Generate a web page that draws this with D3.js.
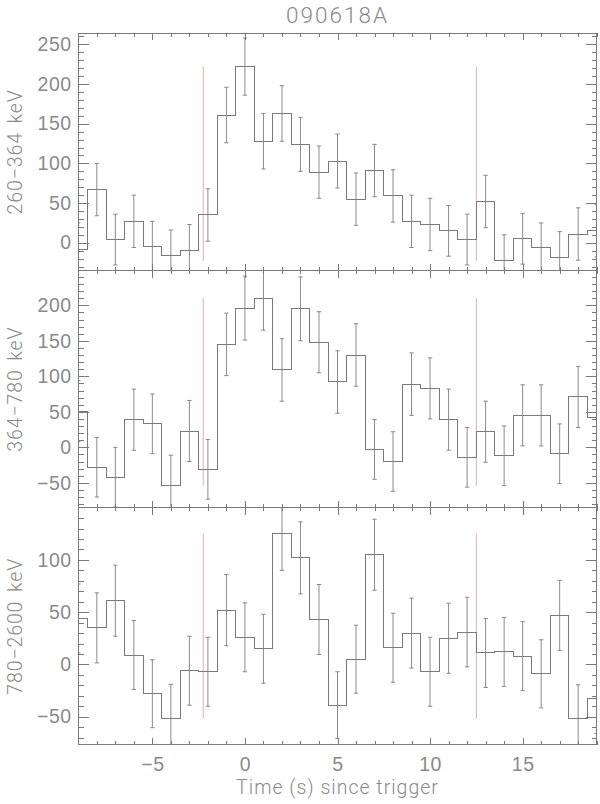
<!DOCTYPE html>
<html>
<head>
<meta charset="utf-8">
<script src="https://cdn.jsdelivr.net/npm/d3@7"></script>
<style>
  html, body { margin: 0; padding: 0; background: #fff; }
  svg { display: block; font-family: Roboto, "Liberation Sans", sans-serif; font-weight: 300; }
  .tick text { fill: #8a8a8a; font-size: 19.5px; }
  .tick line { stroke: #7a7a7a; }
</style>
</head>
<body>
<svg id="chart" width="600" height="804"></svg>
<script>
// Bin centres (s since trigger), 1 s bins.
const times = [-9, -8, -7, -6, -5, -4, -3, -2, -1, 0, 1, 2, 3, 4, 5, 6, 7, 8, 9,
  10, 11, 12, 13, 14, 15, 16, 17, 18, 19];

const rate260 = [-8, 67, 4, 27, -5, -16, -10, 35, 161, 222, 128, 163, 124, 89,
  103, 55, 91, 59, 27, 23, 15, 4, 52, -23, 5, -6, -18, 11, 15];
const err260 = [33, 33, 32, 33, 32, 32, 33, 33, 35, 36, 35, 35, 34, 33,
  34, 33, 33, 33, 33, 33, 32, 32, 33, 33, 32, 31, 32, 33, 33];

const rate364 = [51, -28, -42, 39, 33, -54, 23, -31, 145, 196, 210, 109, 195, 148,
  92, 130, -3, -20, 89, 83, 39, -14, 22, -12, 45, 45, -9, 71, 42];
const err364 = [43, 42, 42, 43, 42, 43, 43, 42, 44, 45, 45, 44, 45, 43,
  44, 44, 42, 42, 44, 43, 43, 42, 43, 42, 43, 43, 42, 43, 43];

const rate780 = [44, 35, 61, 9, -28, -52, -6, -7, 52, 26, 15, 125, 102, 43,
  -39, 5, 105, 16, 30, -7, 25, 31, 11, 12, 8, -9, 47, -52, -33];
const err780 = [33, 33.5, 34, 33, 32.5, 33, 33, 33, 34, 33, 33, 35, 34.5, 33.5,
  32, 32.5, 34, 33, 33.5, 33, 33.5, 33.3, 33, 33, 33, 32.6, 33.5, 32.5, 33];

const panelLabels = ['260\u2212364 keV', '364\u2212780 keV', '780\u22122600 keV'];
const yDomains = [[-35, 264], [-85, 249], [-77, 150]];
const yMajorTicks = [
  [0, 50, 100, 150, 200, 250],
  [-50, 0, 50, 100, 150, 200],
  [-50, 0, 50, 100]
];
const xMajorTicks = [-5, 0, 5, 10, 15];
const markerTimes = [-2.25, 12.5];   // red vertical lines

const title = '090618A';
const xTitle = 'Time (s) since trigger';

const panels = [
  {rate: rate260, err: err260},
  {rate: rate364, err: err364},
  {rate: rate780, err: err780},
];

const svg = d3.select('#chart');
const plotL = 78.3, plotR = 596.7, plotT = 33.3, panelH = 237.2;
const lineColor = '#7a7a7a';
const textColor = '#8a8a8a';
const minus = s => String(s).replace('-', '\u2212');

const x = d3.scaleLinear().domain([-9, 19]).range([plotL, plotR]);
const xMinor = d3.range(-9, 20, 1);

svg.append('text')
    .attr('x', (plotL + plotR) / 2)
    .attr('y', 22.5)
    .attr('text-anchor', 'middle')
    .attr('fill', textColor)
    .attr('font-size', 22.5)
    .attr('letter-spacing', 2)
    .text(title);

panels.forEach((p, i) => {
  const y0 = plotT + i * panelH, y1 = y0 + panelH;
  const y = d3.scaleLinear().domain(yDomains[i]).range([y1, y0]);
  const dom = yDomains[i];
  const yMinor = d3.range(Math.ceil(dom[0] / 10) * 10, dom[1], 10);
  const g = svg.append('g');

  g.append('clipPath').attr('id', 'clip' + i)
    .append('rect')
      .attr('x', plotL).attr('y', y0)
      .attr('width', plotR - plotL).attr('height', panelH);

  const body = g.append('g').attr('clip-path', 'url(#clip' + i + ')');

  // Trigger interval markers span the data extent.
  const ext = d3.extent(p.rate);
  body.selectAll('line.marker')
    .data(markerTimes)
    .join('line')
      .attr('class', 'marker')
      .attr('x1', d => x(d)).attr('x2', d => x(d))
      .attr('y1', y(ext[0])).attr('y2', y(ext[1]))
      .attr('stroke', '#d99a9a')
      .attr('stroke-width', 0.8);

  const line = d3.line()
      .x((d, j) => x(times[j]))
      .y(d => y(d))
      .curve(d3.curveStep);

  body.append('path')
      .attr('d', line(p.rate))
      .attr('fill', 'none')
      .attr('stroke', lineColor)
      .attr('stroke-width', 1)
      .attr('shape-rendering', 'crispEdges');

  // Error bars with small caps.
  const bars = body.selectAll('g.err')
    .data(times.map((t, j) => ({t, v: p.rate[j], e: p.err[j]})))
    .join('g')
      .attr('class', 'err')
      .attr('stroke', '#7e7e7e')
      .attr('stroke-width', 0.9);
  bars.append('line')
      .attr('x1', d => x(d.t)).attr('x2', d => x(d.t))
      .attr('y1', d => y(d.v - d.e)).attr('y2', d => y(d.v + d.e));
  bars.selectAll('line.cap')
    .data(d => [d.v - d.e, d.v + d.e].map(v => ({t: d.t, v})))
    .join('line')
      .attr('class', 'cap')
      .attr('x1', d => x(d.t) - 2.2).attr('x2', d => x(d.t) + 2.2)
      .attr('y1', d => y(d.v)).attr('y2', d => y(d.v));

  // Axes, ticks pointing inwards on all four sides.
  const axes = [
    [d3.axisLeft(y).tickValues(yMinor).tickSize(-5.2), plotL, 0, false],
    [d3.axisLeft(y).tickValues(yMajorTicks[i]).tickSize(-10.5).tickPadding(6.5), plotL, 0, true],
    [d3.axisRight(y).tickValues(yMinor).tickSize(-5.2), plotR, 0, false],
    [d3.axisRight(y).tickValues(yMajorTicks[i]).tickSize(-10.5), plotR, 0, false],
    [d3.axisTop(x).tickValues(xMinor).tickSize(-3.5), 0, y0, false],
    [d3.axisTop(x).tickValues(xMajorTicks).tickSize(-7), 0, y0, false],
    [d3.axisBottom(x).tickValues(xMinor).tickSize(-3.5), 0, y1, false],
    [d3.axisBottom(x).tickValues(xMajorTicks).tickSize(-7).tickPadding(12), 0, y1, i === 2],
  ];
  axes.forEach(([ax, tx, ty, labels]) => {
    const a = g.append('g')
        .attr('transform', 'translate(' + tx + ',' + ty + ')')
        .call(ax.tickFormat(labels ? minus : () => '').tickSizeOuter(0));
    a.select('.domain').remove();
    a.selectAll('.tick line').attr('shape-rendering', 'crispEdges');
    a.selectAll('.tick text').attr('letter-spacing', 0.6);
  });

  g.append('rect')
      .attr('x', plotL).attr('y', y0)
      .attr('width', plotR - plotL).attr('height', panelH)
      .attr('fill', 'none')
      .attr('stroke', lineColor)
      .attr('shape-rendering', 'crispEdges');

  g.append('text')
      .attr('transform', 'translate(21.5,' + (y0 + y1) / 2 + ') rotate(-90)')
      .attr('text-anchor', 'middle')
      .attr('fill', textColor)
      .attr('font-size', 19.5)
      .attr('letter-spacing', 0.9)
      .attr('word-spacing', 3)
      .text(panelLabels[i]);
});

svg.append('text')
    .attr('x', (plotL + plotR) / 2)
    .attr('y', 794)
    .attr('text-anchor', 'middle')
    .attr('fill', textColor)
    .attr('font-size', 19.5)
    .attr('letter-spacing', 1)
    .text(xTitle);
</script>
</body>
</html>
